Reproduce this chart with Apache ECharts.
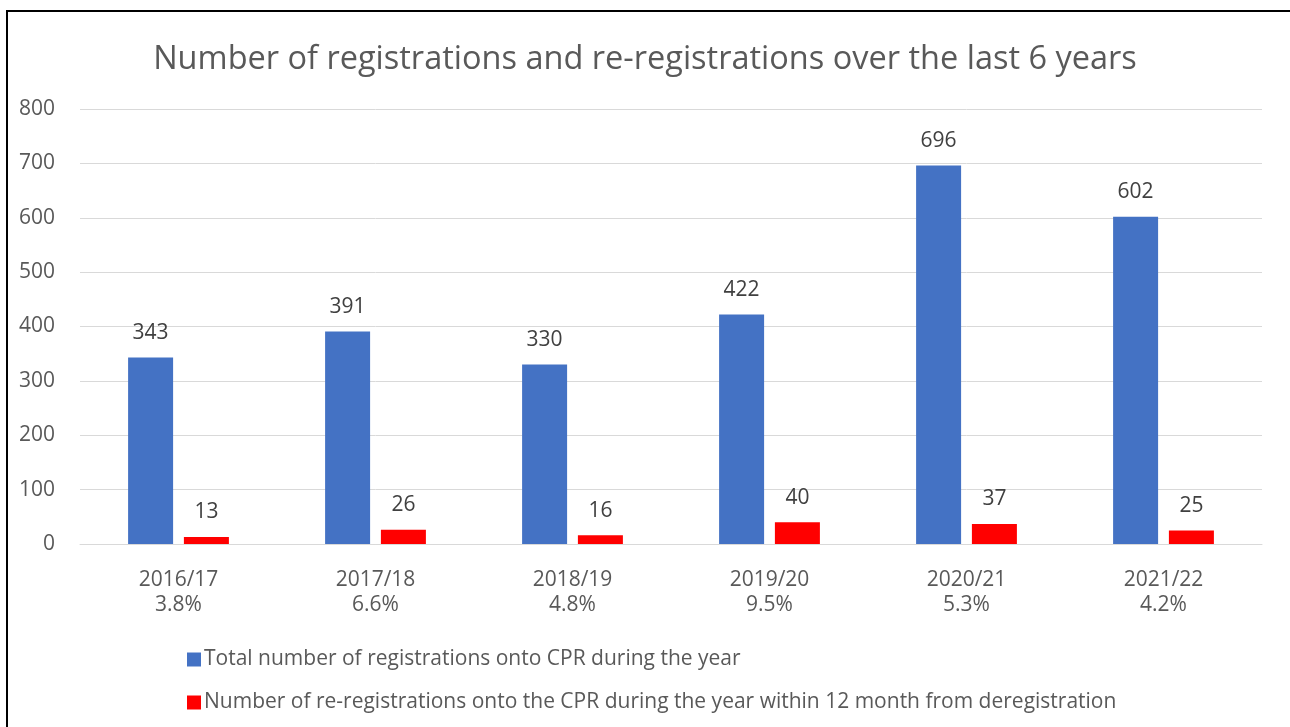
<!DOCTYPE html>
<html lang="en">
<head>
    <meta charset="UTF-8">
    <title>registrations</title>
    <style>
        body { margin: 0; background: #fff; overflow: hidden; }
        #frame { position: absolute; left: 6px; top: 10px; width: 1320px; height: 740px; border: 2px solid #000; box-sizing: border-box; }
        #main { position: absolute; left: 0; top: 0; width: 1290px; height: 727px; }
    </style>
</head>
<body>
    <div id="frame"></div>
    <div id="main"></div>
</body>
<script src="https://cdn.jsdelivr.net/npm/echarts@6/dist/echarts.min.js"></script>
<script>
    var years = ['2016/17', '2017/18', '2018/19', '2019/20', '2020/21', '2021/22']
    var rates = ['3.8%', '6.6%', '4.8%', '9.5%', '5.3%', '4.2%']
    var total = [343, 391, 330, 422, 696, 602]
    var reRegs = [13, 26, 16, 40, 37, 25]
    var yTicks = [0, 100, 200, 300, 400, 500, 600, 700, 800]

    var cats = []
    for (var i = 0; i < years.length; i++) {
        cats.push(years[i] + '\n' + rates[i])
    }

    var font = '"Open Sans", sans-serif'
    var myChart = echarts.init(document.getElementById('main'))
    var option = {
        animation: false,
        textStyle: { fontFamily: font },
        title: {
            text: 'Number of registrations and re-registrations over the last 6 years',
            left: 'center',
            top: 38,
            textStyle: { fontSize: 32.5, fontWeight: 'normal', color: '#595959', fontFamily: font }
        },
        legend: {
            orient: 'vertical',
            left: 182,
            top: 644,
            itemWidth: 14,
            itemHeight: 14,
            itemGap: 22,
            icon: 'rect',
            textStyle: { fontSize: 21, color: '#595959', fontFamily: font, padding: [0, 0, 0, -2] },
            data: ['Total number of registrations onto CPR during the year',
                'Number of re-registrations onto the CPR during the year within 12 month from deregistration']
        },
        grid: { left: 80, right: 28, top: 109, bottom: 183 },
        xAxis: {
            type: 'category',
            data: cats,
            axisLine: { lineStyle: { color: '#d9d9d9', width: 1 } },
            axisTick: { show: false },
            axisLabel: { fontSize: 21, color: '#595959', lineHeight: 25, margin: 24, fontFamily: font }
        },
        yAxis: {
            type: 'value',
            min: yTicks[0],
            max: yTicks[yTicks.length - 1],
            interval: 100,
            axisLine: { show: false },
            axisTick: { show: false },
            splitLine: { lineStyle: { color: '#d9d9d9', width: 1 } },
            axisLabel: { fontSize: 21, color: '#595959', margin: 25, fontFamily: font }
        },
        series: [{
            name: 'Total number of registrations onto CPR during the year',
            type: 'bar',
            data: total,
            barWidth: 45,
            barGap: '24%',
            itemStyle: { color: '#4472c4' },
            label: { show: true, position: 'top', distance: 14, fontSize: 21, color: '#404040', fontFamily: font }
        }, {
            name: 'Number of re-registrations onto the CPR during the year within 12 month from deregistration',
            type: 'bar',
            data: reRegs,
            barWidth: 45,
            itemStyle: { color: '#ff0000' },
            label: { show: true, position: 'top', distance: 14, fontSize: 21, color: '#404040', fontFamily: font }
        }]
    }
    myChart.setOption(option)
</script>
</html>
